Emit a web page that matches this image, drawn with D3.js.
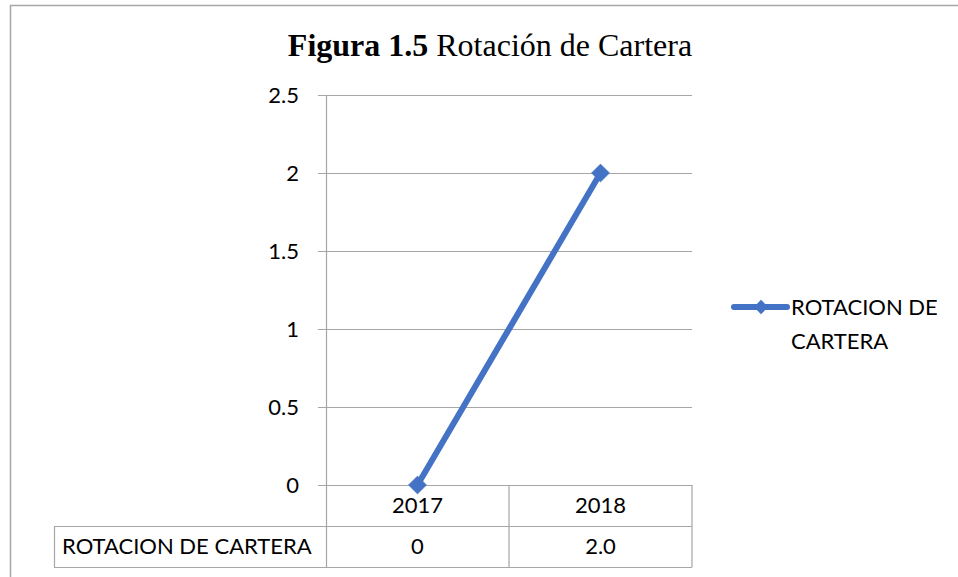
<!DOCTYPE html>
<html>
<head>
<meta charset="utf-8">
<script src="https://cdn.jsdelivr.net/npm/d3@7"></script>
<style>
  body { margin: 0; background: #fff; }
  svg { display: block; }
</style>
</head>
<body>
<div id="chart"></div>
<script>
const width = 958, height = 577

// data
const categories = ['2017', '2018']
const seriesName = 'ROTACION DE CARTERA'
const values = [0, 2.0]
const valueLabels = ['0', '2.0']
const yTicks = [0, 0.5, 1, 1.5, 2, 2.5]

const plot = { left: 326, right: 692, top: 95, bottom: 485 }
const rowH = 41
const labelColLeft = 54
const blue = '#4472C4'
const grid = '#A6A6A6'
const tickFont = 'Lato, "Open Sans", sans-serif'
const fs = 22

const svg = d3.select('#chart')
    .append('svg')
    .attr('width', width)
    .attr('height', height)

// outer frame (continues past the image edge)
svg.append('rect')
    .attr('x', 10.5).attr('y', 5.5)
    .attr('width', 1000).attr('height', 700)
    .attr('fill', 'none')
    .attr('stroke', '#A6A6A6')
    .attr('stroke-width', 1.5)

const x = d3.scaleBand()
    .domain(categories)
    .range([plot.left, plot.right])

const y = d3.scaleLinear()
    .domain([0, 2.5])
    .range([plot.bottom, plot.top])

// gridlines + left ticks
svg.append('g')
    .selectAll('line')
    .data(yTicks)
    .join('line')
    .attr('x1', plot.left - 8)
    .attr('x2', plot.right)
    .attr('y1', d => Math.round(y(d)) + 0.5)
    .attr('y2', d => Math.round(y(d)) + 0.5)
    .attr('stroke', grid)
    .attr('stroke-width', 1.2)

svg.append('g')
    .selectAll('text')
    .data(yTicks)
    .join('text')
    .attr('x', plot.left - 27)
    .attr('y', d => y(d))
    .attr('dy', '0.35em')
    .attr('text-anchor', 'end')
    .attr('font-family', tickFont)
    .attr('font-size', fs)
    .attr('fill', '#000')
    .text(d => d)

// vertical axis line
svg.append('line')
    .attr('x1', plot.left + 0.5).attr('x2', plot.left + 0.5)
    .attr('y1', plot.top).attr('y2', plot.bottom + 2 * rowH)
    .attr('stroke', grid)
    .attr('stroke-width', 1.2)

// data table
const table = svg.append('g')
const tb = plot.bottom + 2 * rowH
table.selectAll('line.sep')
    .data(x.domain().map(d => x(d) + x.bandwidth()))
    .join('line')
    .attr('x1', d => d).attr('x2', d => d)
    .attr('y1', plot.bottom).attr('y2', tb)
    .attr('stroke', grid).attr('stroke-width', 1.2)
table.append('line')
    .attr('x1', labelColLeft).attr('x2', plot.right)
    .attr('y1', plot.bottom + rowH + 0.5).attr('y2', plot.bottom + rowH + 0.5)
    .attr('stroke', grid).attr('stroke-width', 1.2)
table.append('line')
    .attr('x1', labelColLeft).attr('x2', plot.right)
    .attr('y1', tb + 0.5).attr('y2', tb + 0.5)
    .attr('stroke', grid).attr('stroke-width', 1.2)
table.append('line')
    .attr('x1', labelColLeft + 0.5).attr('x2', labelColLeft + 0.5)
    .attr('y1', plot.bottom + rowH).attr('y2', tb)
    .attr('stroke', grid).attr('stroke-width', 1.2)

table.selectAll('text.cat')
    .data(categories)
    .join('text')
    .attr('x', d => x(d) + x.bandwidth() / 2)
    .attr('y', plot.bottom + rowH / 2)
    .attr('dy', '0.35em')
    .attr('text-anchor', 'middle')
    .attr('font-family', tickFont)
    .attr('font-size', fs)
    .text(d => d)

table.selectAll('text.val')
    .data(valueLabels)
    .join('text')
    .attr('x', (d, i) => x(categories[i]) + x.bandwidth() / 2)
    .attr('y', plot.bottom + rowH * 1.5)
    .attr('dy', '0.35em')
    .attr('text-anchor', 'middle')
    .attr('font-family', tickFont)
    .attr('font-size', fs)
    .text(d => d)

table.append('text')
    .attr('x', labelColLeft + 8)
    .attr('y', plot.bottom + rowH * 1.5)
    .attr('dy', '0.35em')
    .attr('font-family', tickFont)
    .attr('font-size', fs)
    .text(seriesName)

// line series
const line = d3.line()
    .x((d, i) => x(categories[i]) + x.bandwidth() / 2)
    .y(d => y(d))

svg.append('path')
    .datum(values)
    .attr('d', line)
    .attr('fill', 'none')
    .attr('stroke', blue)
    .attr('stroke-width', 6)
    .attr('stroke-linecap', 'round')

const diamond = d3.symbol().type(d3.symbolDiamond2).size(200)
svg.selectAll('path.marker')
    .data(values)
    .join('path')
    .attr('transform', (d, i) => `translate(${x(categories[i]) + x.bandwidth() / 2},${y(d)})`)
    .attr('d', diamond)
    .attr('fill', blue)
    .attr('stroke', blue)

// legend
const lg = svg.append('g').attr('transform', 'translate(734,307)')
lg.append('line')
    .attr('x1', 0).attr('x2', 53)
    .attr('stroke', blue).attr('stroke-width', 6)
    .attr('stroke-linecap', 'round')
lg.append('path')
    .attr('transform', 'translate(27,0)')
    .attr('d', d3.symbol().type(d3.symbolDiamond2).size(130))
    .attr('fill', blue)
lg.append('text')
    .attr('x', 57).attr('y', 0)
    .attr('dy', '0.35em')
    .attr('font-family', tickFont)
    .attr('font-size', fs)
    .call(t => t.append('tspan').text('ROTACION DE'))
    .call(t => t.append('tspan').attr('x', 57).attr('dy', 34).text('CARTERA'))

// title
svg.append('text')
    .attr('x', 490)
    .attr('y', 56)
    .attr('text-anchor', 'middle')
    .attr('font-family', '"Liberation Serif", "Times New Roman", serif')
    .attr('font-size', 32)
    .call(t => t.append('tspan').attr('font-weight', 'bold').text('Figura 1.5'))
    .call(t => t.append('tspan').text(' Rotación de Cartera'))
</script>
</body>
</html>
